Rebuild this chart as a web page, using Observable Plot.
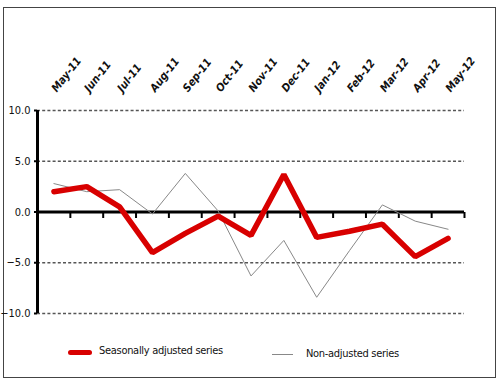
<!DOCTYPE html>
<html>
<head>
<meta charset="utf-8">
<script src="https://cdn.jsdelivr.net/npm/d3@7"></script>
<script src="https://cdn.jsdelivr.net/npm/@observablehq/plot@0.6"></script>
<style>
  body { margin: 0; background: #fff; }
  #wrap { position: relative; width: 500px; height: 384px; overflow: hidden; font-family: "Liberation Sans Narrow", "DejaVu Sans Condensed", sans-serif; }
  #frame { position: absolute; left: 3px; top: 7px; width: 491px; height: 369px; border: 1.5px solid #444; box-sizing: content-box; }
  #chart { position: absolute; left: 0; top: 0; }
  .months text { font-style: italic; font-weight: bold; }
  .legend { position: absolute; font-size: 11px; letter-spacing: -0.3px; color: #111; white-space: nowrap; }
  .sw { position: absolute; }
</style>
</head>
<body>
<div id="wrap">
  <div id="frame"></div>
  <div id="chart"></div>
  <div class="sw" style="left:68px; top:350px; width:24px; height:5px; background:#d80000; border-radius:3px;"></div>
  <div class="legend" style="left:99px; top:344px;">Seasonally adjusted series</div>
  <div class="sw" style="left:272px; top:354px; width:21px; height:1px; background:#888;"></div>
  <div class="legend" style="left:306px; top:347px;">Non-adjusted series</div>
</div>
<script>
const months = ["May-11","Jun-11","Jul-11","Aug-11","Sep-11","Oct-11","Nov-11","Dec-11","Jan-12","Feb-12","Mar-12","Apr-12","May-12"];
const seasonallyAdjusted = [2.0, 2.5, 0.5, -4.0, -2.1, -0.4, -2.3, 3.7, -2.5, -1.9, -1.2, -4.4, -2.6];
const nonAdjusted = [2.8, 2.0, 2.2, -0.2, 3.8, 0.1, -6.3, -2.8, -8.4, -3.8, 0.7, -0.9, -1.7];
const yTicks = [-10, -5, 0, 5, 10];
const gridValues = [10, 5, -5, -10];

const idx = months.map((_, i) => i);
const xDomain = [-0.5, months.length - 0.5];
const boundaries = months.map((_, i) => i + 0.5);
const tickSymbol = { draw(ctx) { ctx.moveTo(0, 0); ctx.lineTo(0, 6); } };

const sa = idx.map(i => ({ i, v: seasonallyAdjusted[i] }));
const nsa = idx.map(i => ({ i, v: nonAdjusted[i] }));

const plot = Plot.plot({
  width: 500,
  height: 384,
  marginLeft: 37,
  marginRight: 36,
  marginTop: 110,
  marginBottom: 71,
  style: { fontFamily: '"Liberation Sans Narrow", "DejaVu Sans Condensed", sans-serif', background: "transparent", color: "#111" },
  x: { type: "linear", domain: xDomain, axis: null },
  y: { domain: [-10, 10], axis: null },
  marks: [
    Plot.ruleY(gridValues, { stroke: "#555", strokeWidth: 1.3, strokeDasharray: "3,2.2" }),
    Plot.ruleY([0], { stroke: "#000", strokeWidth: 3 }),
    Plot.dot(boundaries, { x: d => d, y: 0, symbol: tickSymbol, stroke: "#000", strokeWidth: 2, fill: "none", r: 3 }),
    Plot.ruleX([xDomain[0]], { y1: -10, y2: 10, stroke: "#000", strokeWidth: 3 }),
    Plot.axisY({ ticks: yTicks, tickFormat: d3.format(".1f"), tickSize: 3, tickPadding: 4, fontSize: 11, label: null, stroke: "#000", strokeWidth: 2 }),
    Plot.axisX({ anchor: "top", ticks: idx, tickFormat: i => months[i], tickRotate: -52, tickSize: 0, tickPadding: 20, fontSize: 11, fontStyle: "italic", fontWeight: "bold", label: null, className: "months" }),
    Plot.line(nsa, { x: "i", y: "v", stroke: "#888", strokeWidth: 1 }),
    Plot.line(sa, { x: "i", y: "v", stroke: "#d80000", strokeWidth: 5.5, strokeLinejoin: "miter" })
  ]
});
document.getElementById("chart").appendChild(plot);
</script>
</body>
</html>
